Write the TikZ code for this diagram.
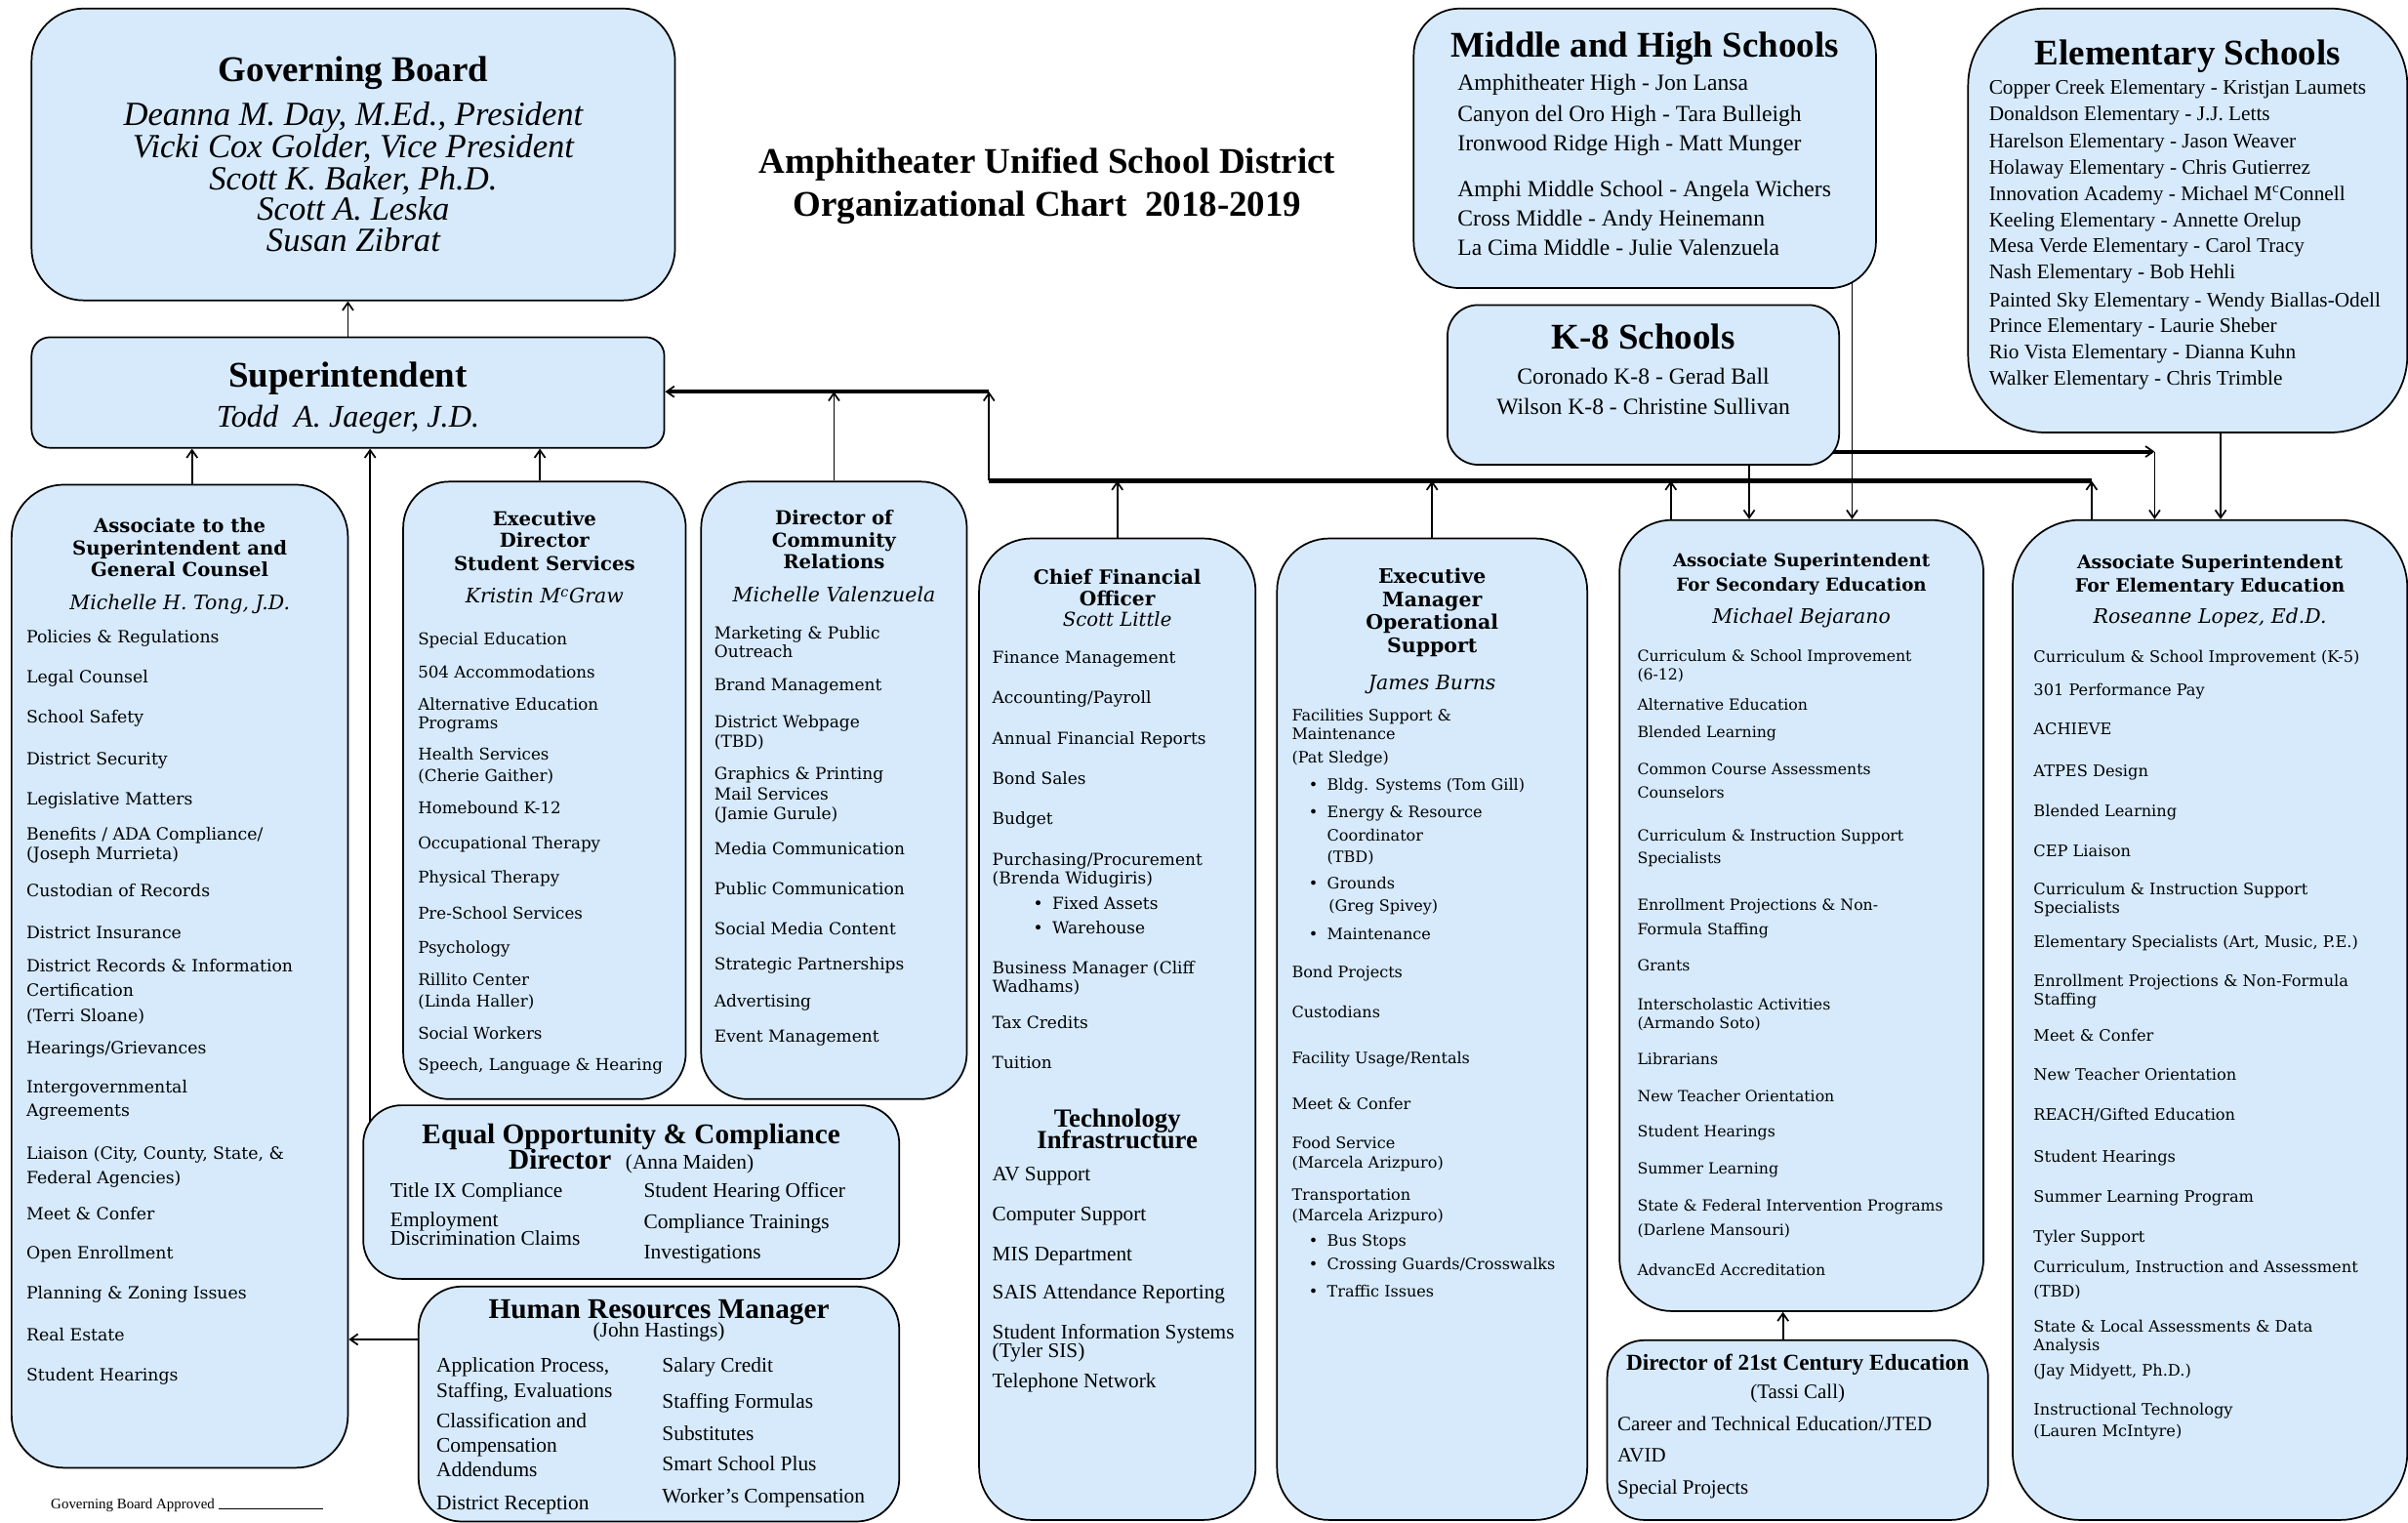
\documentclass[tikz,border=0pt]{standalone}
\usepackage{fontspec}
\setmainfont{Liberation Serif}
\newfontfamily\cs{DejaVu Serif}
\usetikzlibrary{arrows.meta,backgrounds}
\definecolor{boxfill}{RGB}{214,234,252}
\newcommand{\sz}[1]{\fontsize{#1}{#1}\selectfont}
\newcommand{\bul}[2]{\makebox[#1pt][r]{\textbullet\hspace{6pt}}#2}

\tikzset{
  orgbox/.style={draw, line width=1.1pt, fill=boxfill, rounded corners=#1, anchor=north west, inner sep=0pt},
  orgbox/.default=20pt,
  entry/.style 2 args={anchor=base west, inner sep=0pt, font=#1\sz{#2}, yshift=-0.34*#2},
  heading/.style 2 args={anchor=base, inner sep=0pt, font=#1\sz{#2}, yshift=-0.34*#2},
  centry/.style 2 args={anchor=base west, inner sep=0pt, font=\cs#1\sz{#2}, yshift=-0.44*#2},
  cheading/.style 2 args={anchor=base, inner sep=0pt, font=\cs#1\sz{#2}, yshift=-0.44*#2},
  feed/.style={line width=1.1pt, -{Straight Barb[length=5pt,width=7pt,line width=1.1pt]}},
  bus/.style={line width=2.6pt},
}

\begin{document}
\begin{tikzpicture}[x=1pt,y=-1pt]
\useasboundingbox (0,0) rectangle (1568,991);

% boxes
\node[orgbox=34pt, minimum width=419pt, minimum height=190pt] (board) at (20,5) {};
\node[orgbox=12pt, minimum width=412pt, minimum height=72pt] (supt) at (20,219) {};
\node[orgbox=30pt, minimum width=301pt, minimum height=182pt] (mh) at (920,5) {};
\node[orgbox=20pt, minimum width=255pt, minimum height=104pt] (k8) at (942,198) {};
\node[orgbox=50pt, minimum width=286pt, minimum height=276pt] (el) at (1281,5) {};
\node[orgbox=34pt, minimum width=219pt, minimum height=640pt] (gc) at (7,315) {};
\node[orgbox=30pt, minimum width=184pt, minimum height=402pt] (ess) at (262,313) {};
\node[orgbox=30pt, minimum width=173pt, minimum height=402pt] (cr) at (456,313) {};
\node[orgbox=25pt, minimum width=349pt, minimum height=113pt] (eo) at (236,719) {};
\node[orgbox=28pt, minimum width=313pt, minimum height=153pt] (hr) at (272,837) {};
\node[orgbox=34pt, minimum width=180pt, minimum height=639pt] (cfo) at (637,350) {};
\node[orgbox=34pt, minimum width=202pt, minimum height=639pt] (ops) at (831,350) {};
\node[orgbox=34pt, minimum width=237pt, minimum height=515pt] (sec) at (1054,338) {};
\node[orgbox=24pt, minimum width=248pt, minimum height=117pt] (c21) at (1046,872) {};
\node[orgbox=44pt, minimum width=257pt, minimum height=651pt] (elem) at (1310,338) {};

% title
\node[heading={\bfseries}{23.5}] (title1) at (682,105) {Amphitheater Unified School District};
\node[heading={\bfseries}{23.5}] (title2) at (682,133) {Organizational Chart\ \ 2018-2019};

% governing board and superintendent
\node[heading={\bfseries}{23.5}] (board-t) at (board.north |- 0,45) {Governing Board};
\foreach \y/\txt in {74/{Deanna M. Day, M.Ed., President}, 95/{Vicki Cox Golder, Vice President},
    116/{Scott K. Baker, Ph.D.}, 136/{Scott A. Leska}, 156/{Susan Zibrat}}
  \node[heading={\itshape}{22}] (board-\y) at (board.north |- 0,\y) {\txt};
\node[heading={\bfseries}{23.5}] (supt-t) at (supt.north |- 0,244) {Superintendent};
\node[heading={\itshape}{20.5}] (supt-n) at (supt.north |- 0,271) {Todd\ \ A. Jaeger, J.D.};

% schools
\node[heading={\bfseries}{23.5}] (mh-t) at (mh.north |- 0,29) {Middle and High Schools};
\foreach \y/\txt in {54/{Amphitheater High - Jon Lansa}, 74/{Canyon del Oro High - Tara Bulleigh},
    93/{Ironwood Ridge High - Matt Munger}, 123/{Amphi Middle School - Angela Wichers},
    142/{Cross Middle - Andy Heinemann}, 161/{La Cima Middle - Julie Valenzuela}}
  \node[entry={}{15}] (mh-\y) at (949,\y) {\txt};

\node[heading={\bfseries}{23.5}] (k8-t) at (k8.north |- 0,219) {K-8 Schools};
\foreach \y/\txt in {245/{Coronado K-8 - Gerad Ball}, 265/{Wilson K-8 - Christine Sullivan}}
  \node[heading={}{15}] (k8-\y) at (k8.north |- 0,\y) {\txt};

\node[heading={\bfseries}{23.5}] (el-t) at (el.north |- 0,34) {Elementary Schools};
\foreach \y/\txt in {57/{Copper Creek Elementary - Kristjan Laumets}, 74/{Donaldson Elementary - J.J. Letts},
    92/{Harelson Elementary - Jason Weaver}, 109/{Holaway Elementary - Chris Gutierrez},
    126/{Innovation Academy - Michael M\textsuperscript{c}Connell}, 143/{Keeling Elementary - Annette Orelup},
    160/{Mesa Verde Elementary - Carol Tracy}, 177/{Nash Elementary - Bob Hehli},
    195/{Painted Sky Elementary - Wendy Biallas-Odell}, 212/{Prince Elementary - Laurie Sheber},
    229/{Rio Vista Elementary - Dianna Kuhn}, 246/{Walker Elementary - Chris Trimble}}
  \node[entry={}{13.5}] (el-\y) at (1295,\y) {\txt};

% general counsel
\foreach \y/\txt in {341/{Associate to the}, 356/{Superintendent and}, 370/{General Counsel}}
  \node[cheading={\bfseries}{12.5}] (gc-h\y) at (gc.north |- 0,\y) {\txt};
\node[cheading={\itshape}{13}] (gc-n) at (gc.north |- 0,391) {Michelle H. Tong, J.D.};
\foreach \y/\txt in {414/{Policies \& Regulations}, 440/{Legal Counsel}, 466/{School Safety},
    493/{District Security}, 519/{Legislative Matters}, 542/{Benefits / ADA Compliance/},
    555/{(Joseph Murrieta)}, 579/{Custodian of Records}, 606/{District Insurance},
    628/{District Records \& Information}, 644/{Certification}, 660/{(Terri Sloane)},
    681/{Hearings/Grievances}, 707/{Intergovernmental}, 722/{Agreements},
    750/{Liaison (City, County, State, \&}, 766/{Federal Agencies)}, 789/{Meet \& Confer},
    815/{Open Enrollment}, 841/{Planning \& Zoning Issues}, 868/{Real Estate}, 894/{Student Hearings}}
  \node[centry={}{11}] (gc-\y) at (17,\y) {\txt};

% student services
\foreach \y/\txt in {337/{Executive}, 351/{Director}, 366/{Student Services}}
  \node[cheading={\bfseries}{12.5}] (ess-h\y) at (ess.north |- 0,\y) {\txt};
\node[cheading={\itshape}{13}] (ess-n) at (ess.north |- 0,387) {Kristin M\textsuperscript{c}Graw};
\foreach \y/\txt in {415/{Special Education}, 437/{504 Accommodations}, 458/{Alternative Education},
    470/{Programs}, 490/{Health Services}, 504/{(Cherie Gaither)}, 525/{Homebound K-12},
    548/{Occupational Therapy}, 570/{Physical Therapy}, 594/{Pre-School Services},
    616/{Psychology}, 637/{Rillito Center}, 651/{(Linda Haller)}, 672/{Social Workers},
    692/{Speech, Language \& Hearing}}
  \node[centry={}{10.6}] (ess-\y) at (272,\y) {\txt};

% community relations
\foreach \y/\txt in {336/{Director of}, 351/{Community}, 365/{Relations}}
  \node[cheading={\bfseries}{12.5}] (cr-h\y) at (cr.north |- 0,\y) {\txt};
\node[cheading={\itshape}{13}] (cr-n) at (cr.north |- 0,386) {Michelle Valenzuela};
\foreach \y/\txt in {411/{Marketing \& Public}, 423/{Outreach}, 445/{Brand Management},
    469/{District Webpage}, 482/{(TBD)}, 503/{Graphics \& Printing}, 516/{Mail Services},
    529/{(Jamie Gurule)}, 552/{Media Communication}, 578/{Public Communication},
    604/{Social Media Content}, 627/{Strategic Partnerships}, 651/{Advertising}, 674/{Event Management}}
  \node[centry={}{10.8}] (cr-\y) at (465,\y) {\txt};

% equal opportunity
\node[heading={\bfseries}{18.6}] (eo-t) at (eo.north |- 0,738) {Equal Opportunity \& Compliance};
\node[heading={\bfseries}{18.6}] (eo-d) at (eo.north |- 0,755) {Director\ \ {\mdseries\sz{13.6}(Anna Maiden)}};
\foreach \y/\txt in {775/{Title IX Compliance}, 794/{Employment}, 806/{Discrimination Claims}}
  \node[entry={}{13.6}] (eo-l\y) at (254,\y) {\txt};
\foreach \y/\txt in {775/{Student Hearing Officer}, 795/{Compliance Trainings}, 815/{Investigations}}
  \node[entry={}{13.6}] (eo-r\y) at (419,\y) {\txt};

% human resources
\node[heading={\bfseries}{18.6}] (hr-t) at (hr.north |- 0,852) {Human Resources Manager};
\node[heading={}{13.6}] (hr-n) at (hr.north |- 0,866) {(John Hastings)};
\foreach \y/\txt in {889/{Application Process,}, 905/{Staffing, Evaluations}, 925/{Classification and},
    941/{Compensation}, 957/{Addendums}, 978/{District Reception}}
  \node[entry={}{13.6}] (hr-l\y) at (284,\y) {\txt};
\foreach \y/\txt in {889/{Salary Credit}, 912/{Staffing Formulas}, 933/{Substitutes},
    953/{Smart School Plus}, 974/{Worker’s Compensation}}
  \node[entry={}{13.6}] (hr-r\y) at (431,\y) {\txt};

% finance
\foreach \y/\txt in {375/{Chief Financial}, 389/{Officer}}
  \node[cheading={\bfseries}{12.8}] (cfo-h\y) at (cfo.north |- 0,\y) {\txt};
\node[cheading={\itshape}{12.5}] (cfo-n) at (cfo.north |- 0,402) {Scott Little};
\foreach \y/\txt in {427/{Finance Management}, 453/{Accounting/Payroll}, 480/{Annual Financial Reports},
    506/{Bond Sales}, 532/{Budget}, 559/{Purchasing/Procurement}, 571/{(Brenda Widugiris)},
    587/{\bul{39}{Fixed Assets}}, 603/{\bul{39}{Warehouse}}, 629/{Business Manager (Cliff},
    641/{Wadhams)}, 665/{Tax Credits}, 691/{Tuition}}
  \node[centry={}{10.8}] (cfo-\y) at (646,\y) {\txt};
\foreach \y/\txt in {728/{Technology}, 742/{Infrastructure}}
  \node[heading={\bfseries}{17}] (tech-h\y) at (cfo.north |- 0,\y) {\txt};
\foreach \y/\txt in {764/{AV Support}, 790/{Computer Support}, 816/{MIS Department},
    841/{SAIS Attendance Reporting}, 867/{Student Information Systems}, 879/{(Tyler SIS)},
    899/{Telephone Network}}
  \node[entry={}{13.5}] (tech-\y) at (646,\y) {\txt};

% operations
\foreach \y/\txt in {374/{Executive}, 389/{Manager}, 404/{Operational}, 419/{Support}}
  \node[cheading={\bfseries}{13}] (ops-h\y) at (ops.north |- 0,\y) {\txt};
\node[cheading={\itshape}{13}] (ops-n) at (ops.north |- 0,443) {James Burns};
\foreach \y/\txt in {465/{Facilities Support \&}, 477/{Maintenance}, 492/{(Pat Sledge)},
    510/{\bul{23}{Bldg. Systems (Tom Gill)}}, 528/{\bul{23}{Energy \& Resource}},
    543/{\hspace*{23pt}Coordinator}, 557/{\hspace*{23pt}(TBD)}, 574/{\bul{23}{Grounds}},
    589/{\hspace*{24pt}(Greg Spivey)}, 607/{\bul{23}{Maintenance}}, 632/{Bond Projects},
    658/{Custodians}, 688/{Facility Usage/Rentals}, 718/{Meet \& Confer}, 743/{Food Service},
    756/{(Marcela Arizpuro)}, 777/{Transportation}, 790/{(Marcela Arizpuro)},
    807/{\bul{23}{Bus Stops}}, 822/{\bul{23}{Crossing Guards/Crosswalks}}, 840/{\bul{23}{Traffic Issues}}}
  \node[centry={}{10.2}] (ops-\y) at (841,\y) {\txt};

% secondary education
\foreach \y/\txt in {364/{Associate Superintendent}, 380/{For Secondary Education}}
  \node[cheading={\bfseries}{11.6}] (sec-h\y) at (sec.north |- 0,\y) {\txt};
\node[cheading={\itshape}{13}] (sec-n) at (sec.north |- 0,400) {Michael Bejarano};
\foreach \y/\txt in {426/{Curriculum \& School Improvement}, 438/{(6-12)}, 458/{Alternative Education},
    476/{Blended Learning}, 500/{Common Course Assessments}, 515/{Counselors},
    543/{Curriculum \& Instruction Support}, 558/{Specialists}, 588/{Enrollment Projections \& Non-},
    604/{Formula Staffing}, 628/{Grants}, 653/{Interscholastic Activities}, 665/{(Armando Soto)},
    689/{Librarians}, 713/{New Teacher Orientation}, 736/{Student Hearings}, 760/{Summer Learning},
    784/{State \& Federal Intervention Programs}, 800/{(Darlene Mansouri)}, 826/{AdvancEd Accreditation}}
  \node[centry={}{10}] (sec-\y) at (1066,\y) {\txt};

% 21st century
\node[heading={\bfseries}{14.8}] (c21-t) at (c21.north |- 0,887) {Director of 21st Century Education};
\node[heading={}{13.3}] (c21-n) at (c21.north |- 0,906) {(Tassi Call)};
\foreach \y/\txt in {927/{Career and Technical Education/JTED}, 947/{AVID}, 968/{Special Projects}}
  \node[entry={}{13.3}] (c21-\y) at (1053,\y) {\txt};

% elementary education
\foreach \y/\txt in {365/{Associate Superintendent}, 380/{For Elementary Education}}
  \node[cheading={\bfseries}{12}] (elem-h\y) at (elem.north |- 0,\y) {\txt};
\node[cheading={\itshape}{13}] (elem-n) at (elem.north |- 0,400) {Roseanne Lopez, Ed.D.};
\foreach \y/\txt in {427/{Curriculum \& School Improvement (K-5)}, 448/{301 Performance Pay},
    474/{ACHIEVE}, 501/{ATPES Design}, 527/{Blended Learning}, 553/{CEP Liaison},
    578/{Curriculum \& Instruction Support}, 590/{Specialists},
    612/{Elementary Specialists (Art, Music, P.E.)}, 638/{Enrollment Projections \& Non-Formula},
    650/{Staffing}, 673/{Meet \& Confer}, 699/{New Teacher Orientation}, 725/{REACH/Gifted Education},
    752/{Student Hearings}, 778/{Summer Learning Program}, 804/{Tyler Support},
    824/{Curriculum, Instruction and Assessment}, 840/{(TBD)}, 863/{State \& Local Assessments \& Data},
    875/{Analysis}, 891/{(Jay Midyett, Ph.D.)}, 917/{Instructional Technology}, 931/{(Lauren McIntyre)}}
  \node[centry={}{10.3}] (elem-\y) at (1324,\y) {\txt};

\node[entry={}{9.5}] (approved) at (33,979) {Governing Board Approved \rule{68pt}{0.5pt}};

% connectors
\coordinate (busL) at (644,313);
\coordinate (busR) at (1362,313);
\coordinate (jog) at (644,255);
\coordinate (k8turn) at (1403,294);
\begin{pgfonlayer}{background}
\fill[white] (0,0) rectangle (1568,991);
\draw[feed] (supt.north) -- (supt.north |- board.south);
\draw[feed] ([xshift=8pt]gc.north) -- ([xshift=8pt]gc.north |- supt.south);
\draw[feed] ([xshift=-3pt]ess.north) -- ([xshift=-3pt]ess.north |- supt.south);
\draw[feed] (241,0 |- eo.center) -- (241,0 |- supt.south);
\draw[feed] (hr.west |- 0,872) -- (gc.east |- 0,872);
\draw[bus] (busL) -- (busR);
\draw[feed] (busL) -- (jog);
\draw[feed, bus] (jog) -- (jog -| supt.east);
\draw[feed] (cr.north) -- (cr.north |- jog);
\draw[feed] (cfo.north) -- (cfo.north |- busL);
\draw[feed] (ops.north) -- (ops.north |- busL);
\draw[feed] (1088,0 |- sec.center) -- (1088,0 |- busL);
\draw[feed] (busR |- elem.center) -- (busR);
\draw[feed] (1139,0 |- k8.south) -- (1139,0 |- sec.north);
\draw[feed, line width=0.8pt] (1206,0 |- mh.center) -- (1206,0 |- sec.north);
\draw[feed, bus] (k8.center |- k8turn) -- (k8turn);
\draw[feed] (k8turn) -- (k8turn |- elem.north);
\draw[feed] (1446,0 |- el.south) -- (1446,0 |- elem.north);
\draw[feed] (1161,0 |- c21.north) -- (1161,0 |- sec.south);
\end{pgfonlayer}
\end{tikzpicture}
\end{document}
